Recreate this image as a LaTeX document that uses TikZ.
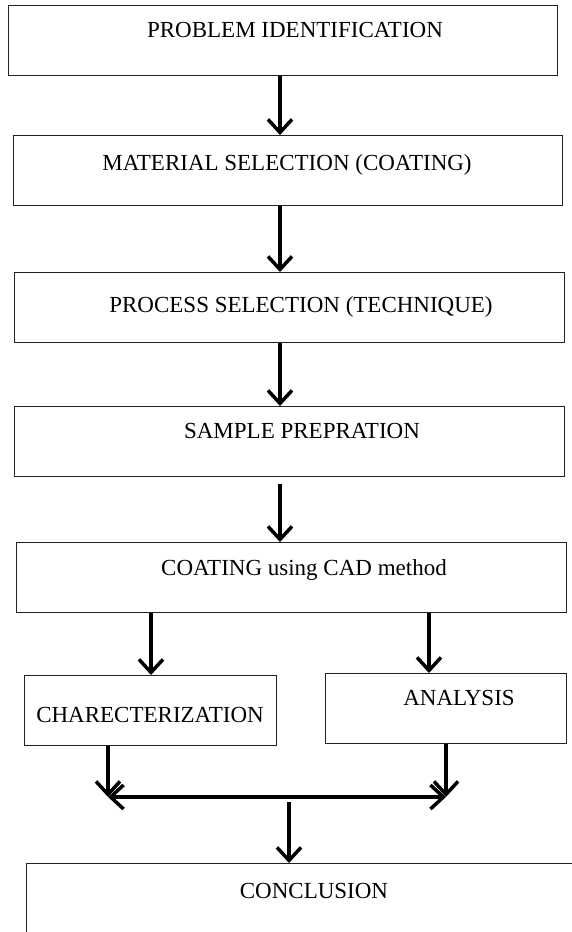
\documentclass[tikz,border=0pt]{standalone}
\usepackage{fontspec}
\setmainfont{Liberation Serif}
\usetikzlibrary{arrows.meta}
\definecolor{boxline}{HTML}{222222}
\definecolor{arrline}{HTML}{000000}

\begin{document}
\begin{tikzpicture}[
    x=1pt, y=-1pt,
    font=\fontsize{23}{27}\selectfont,
    box/.style={draw=boxline, line width=1.1pt, anchor=north west, minimum height=69.5pt, inner sep=0pt},
    txt/.style={anchor=base, inner sep=0pt},
    arr/.style={-{Straight Barb[length=13pt, width=24pt]}, line width=3.5pt, color=arrline},
    twoway/.style={{Straight Barb[length=13pt, width=24pt]}-{Straight Barb[length=13pt, width=24pt]}, line width=3.5pt, color=arrline},
]
\useasboundingbox (0,0) rectangle (572,932);
\clip (0,0) rectangle (572,932);

\node[box, minimum width=549pt] (prob) at (8,5) {};
\node[box, minimum width=549pt, minimum height=70pt] (mat) at (13,135) {};
\node[box, minimum width=550pt, minimum height=70pt] (proc) at (14,272) {};
\node[box, minimum width=550pt] (samp) at (14,406) {};
\node[box, minimum width=550pt] (coat) at (16,542) {};
\node[box, minimum width=252pt] (char) at (24,675) {};
\node[box, minimum width=241pt, minimum height=70pt] (ana) at (325,673) {};
\node[box, minimum width=600pt, minimum height=120pt] (concl) at (26,863) {};

\node[txt] (probtxt) at (295,37) {PROBLEM IDENTIFICATION};
\node[txt] (mattxt) at (287,170) {MATERIAL SELECTION (COATING)};
\node[txt] (proctxt) at (301,312) {PROCESS SELECTION (TECHNIQUE)};
\node[txt] (samptxt) at (302,438) {SAMPLE PREPRATION};
\node[txt] (coattxt) at (304,575) {COATING using CAD method};
\node[txt] (chartxt) at (150,722) {CHARECTERIZATION};
\node[txt] (anatxt) at (459,705) {ANALYSIS};
\node[txt] (concltxt) at (314,898) {CONCLUSION};

\coordinate (spine) at (280,0);
\coordinate (cl) at (151,0);
\coordinate (cr) at (429,0);
\coordinate (jl) at (108,797);
\coordinate (jr) at (446,797);
\coordinate (jm) at (289,802);

\draw[arr] (prob.south -| spine) -- (mat.north -| spine);
\draw[arr] (mat.south -| spine) -- (proc.north -| spine);
\draw[arr] (proc.south -| spine) -- (samp.north -| spine);
\draw[arr] ([yshift=-7pt]samp.south -| spine) -- (coat.north -| spine);
\draw[arr] (coat.south -| cl) -- (char.north -| cl);
\draw[arr] (coat.south -| cr) -- (ana.north -| cr);
\draw[arr] (char.south -| jl) -- (jl);
\draw[arr] (ana.south -| jr) -- (jr);
\draw[twoway] (jl) -- (jr);
\draw[arr] (jm) -- (concl.north -| jm);
\end{tikzpicture}
\end{document}
